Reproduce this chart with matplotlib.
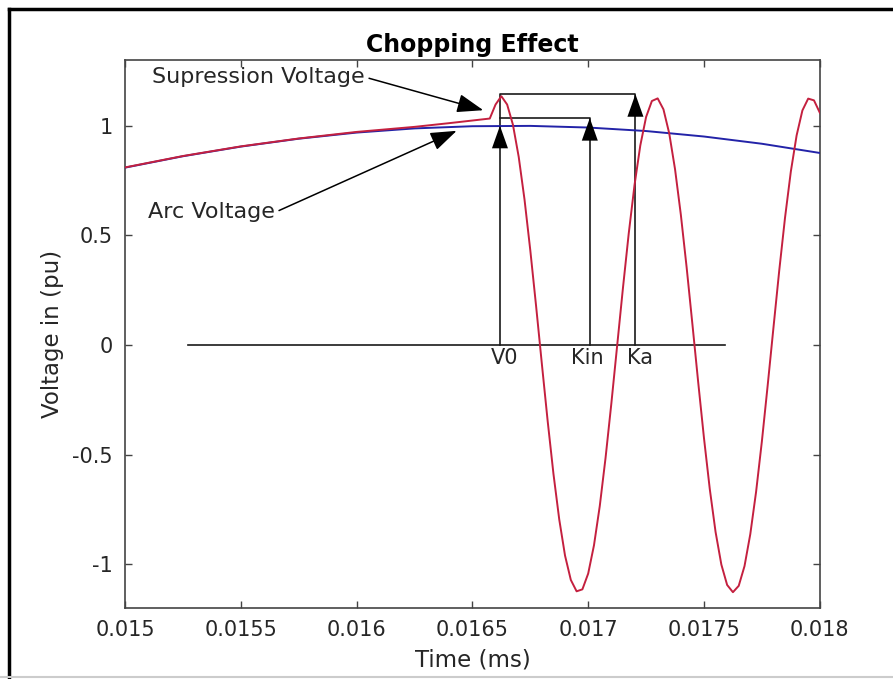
import matplotlib
matplotlib.use("Agg")
import matplotlib.pyplot as plt
from matplotlib.lines import Line2D

# ---------------- data ----------------
arc_t = [0.015, 0.01525, 0.0155, 0.01575, 0.016, 0.01625, 0.0165, 0.01675,
         0.017, 0.01725, 0.0175, 0.01775, 0.018]
arc_v = [0.809, 0.861, 0.905, 0.941, 0.969, 0.988, 0.998, 0.9995,
         0.992, 0.976, 0.951, 0.918, 0.876]

sup_t_pre = [0.015, 0.01525, 0.0155, 0.01575, 0.016, 0.01625, 0.0164, 0.0165, 0.016575, 0.0166]
sup_v_pre = [0.810, 0.862, 0.906, 0.942, 0.972, 0.995, 1.012, 1.024, 1.033, 1.097]

# oscillation after chopping, sampled every 0.000025 s from 0.016625 to 0.018
sup_t_osc = [0.016625, 0.01665, 0.016675, 0.0167, 0.016725, 0.01675, 0.016775, 0.0168,
             0.016825, 0.01685, 0.016875, 0.0169, 0.016925, 0.01695, 0.016975, 0.017,
             0.017025, 0.01705, 0.017075, 0.0171, 0.017125, 0.01715, 0.017175, 0.0172,
             0.017225, 0.01725, 0.017275, 0.0173, 0.017325, 0.01735, 0.017375, 0.0174,
             0.017425, 0.01745, 0.017475, 0.0175, 0.017525, 0.01755, 0.017575, 0.0176,
             0.017625, 0.01765, 0.017675, 0.0177, 0.017725, 0.01775, 0.017775, 0.0178,
             0.017825, 0.01785, 0.017875, 0.0179, 0.017925, 0.01795, 0.017975, 0.018]
sup_v_osc = [1.135, 1.097, 1.005, 0.858, 0.664, 0.432, 0.178, -0.087,
             -0.347, -0.588, -0.796, -0.961, -1.072, -1.124, -1.115, -1.043,
             -0.914, -0.735, -0.515, -0.267, -0.004, 0.259, 0.508, 0.729,
             0.910, 1.040, 1.113, 1.125, 1.075, 0.965, 0.802, 0.595,
             0.355, 0.095, -0.170, -0.425, -0.657, -0.853, -1.002, -1.095,
             -1.128, -1.099, -1.009, -0.863, -0.670, -0.440, -0.185, 0.079,
             0.340, 0.581, 0.791, 0.956, 1.070, 1.124, 1.116, 1.060]

sup_t = sup_t_pre + sup_t_osc
sup_v = sup_v_pre + sup_v_osc

# marker lines
t_V0, t_Kin, t_Ka = 0.016619, 0.017007, 0.017204
v_V0, v_Kin, v_Ka = 1.0, 1.035, 1.144
base_t = [0.01527, 0.01759]
marker_labels = ["V0", "Kin", "Ka"]

sup_label = "Supression Voltage"
sup_tail = (0.016036, 1.222)
sup_tip = (0.016547, 1.071)
arc_label = "Arc Voltage"
arc_tail = (0.0156475, 0.605)
arc_tip = (0.016432, 0.977)

xticks = [0.015, 0.0155, 0.016, 0.0165, 0.017, 0.0175, 0.018]
xticklabels = ["0.015", "0.0155", "0.016", "0.0165", "0.017", "0.0175", "0.018"]
yticks = [-1, -0.5, 0, 0.5, 1]
yticklabels = ["-1", "-0.5", "0", "0.5", "1"]

# ---------------- figure ----------------
plt.rcParams['font.family'] = ['DejaVu Sans']
FS_TICK = 15
FS_TXT = 16
FS_LAB = 16.5
TXT = '#262626'
fig = plt.figure(figsize=(8.93, 6.79), dpi=100)
ax = fig.add_axes([0.140, 0.1046, 0.778, 0.807])

ax.plot(arc_t, arc_v, color='#2323a8', lw=1.4, zorder=3)
ax.plot(sup_t, sup_v, color='#c4203f', lw=1.4, zorder=4)

lc = '#1a1a1a'
lw = 1.2
ax.plot(base_t, [0, 0], color=lc, lw=lw, zorder=2)
ax.plot([t_V0, t_V0, t_Ka, t_Ka], [0, v_Ka, v_Ka, 0], color=lc, lw=lw, zorder=2)
ax.plot([t_V0, t_Kin, t_Kin], [v_Kin, v_Kin, 0], color=lc, lw=lw, zorder=2)

arrow_kw = dict(arrowstyle='-|>,head_length=0.9,head_width=0.32', color='black',
                lw=0.01, shrinkA=0, shrinkB=0, mutation_scale=18)
for t, v in [(t_V0, v_V0), (t_Kin, v_Kin), (t_Ka, v_Ka)]:
    ax.annotate('', xy=(t, v), xytext=(t, v - 0.08), arrowprops=arrow_kw, zorder=5)

for t, lab in zip([t_V0, t_Kin, t_Ka], marker_labels):
    ax.text(t + 0.00002 if lab != "Kin" else t - 0.00001, -0.015, lab, ha='center', va='top',
            fontsize=FS_TICK, color=TXT, zorder=6)

txt_arrow = dict(arrowstyle='-|>,head_length=0.9,head_width=0.32', color='black',
                 lw=1.1, shrinkA=1, shrinkB=0, mutation_scale=18, relpos=(1, 0.5))
ax.annotate(sup_label, xy=sup_tip, xytext=sup_tail, ha='right', va='center',
            fontsize=FS_TXT, color=TXT, arrowprops=txt_arrow, zorder=6)
ax.annotate(arc_label, xy=arc_tip, xytext=arc_tail, ha='right', va='center',
            fontsize=FS_TXT, color=TXT, arrowprops=txt_arrow, zorder=6)

ax.set_xlim(0.015, 0.018)
ax.set_ylim(-1.2, 1.3)
ax.set_xticks(xticks)
ax.set_xticklabels(xticklabels)
ax.set_yticks(yticks)
ax.set_yticklabels(yticklabels)
ax.tick_params(direction='in', top=True, right=True, length=5, width=1,
               color='#444444', labelcolor=TXT, labelsize=FS_TICK, pad=9)
for s in ax.spines.values():
    s.set_color('#444444')
    s.set_linewidth(1.2)

ax.set_title("Chopping Effect", fontsize=17, fontweight='bold', color='black', pad=6)
ax.set_xlabel("Time (ms)", fontsize=FS_LAB, color=TXT, labelpad=6)
ax.set_ylabel("Voltage in (pu)", fontsize=FS_LAB, color=TXT, labelpad=6)

# figure frame
fig.add_artist(Line2D([0.0105, 0.0105], [0.0, 0.987], transform=fig.transFigure,
                      color='black', lw=2.5))
fig.add_artist(Line2D([0.0105, 1.0], [0.987, 0.987], transform=fig.transFigure,
                      color='black', lw=2.5))
fig.add_artist(Line2D([0.0, 1.0], [0.003, 0.003], transform=fig.transFigure,
                      color='#cccccc', lw=1.5))

fig.savefig("out.png", dpi=100)
